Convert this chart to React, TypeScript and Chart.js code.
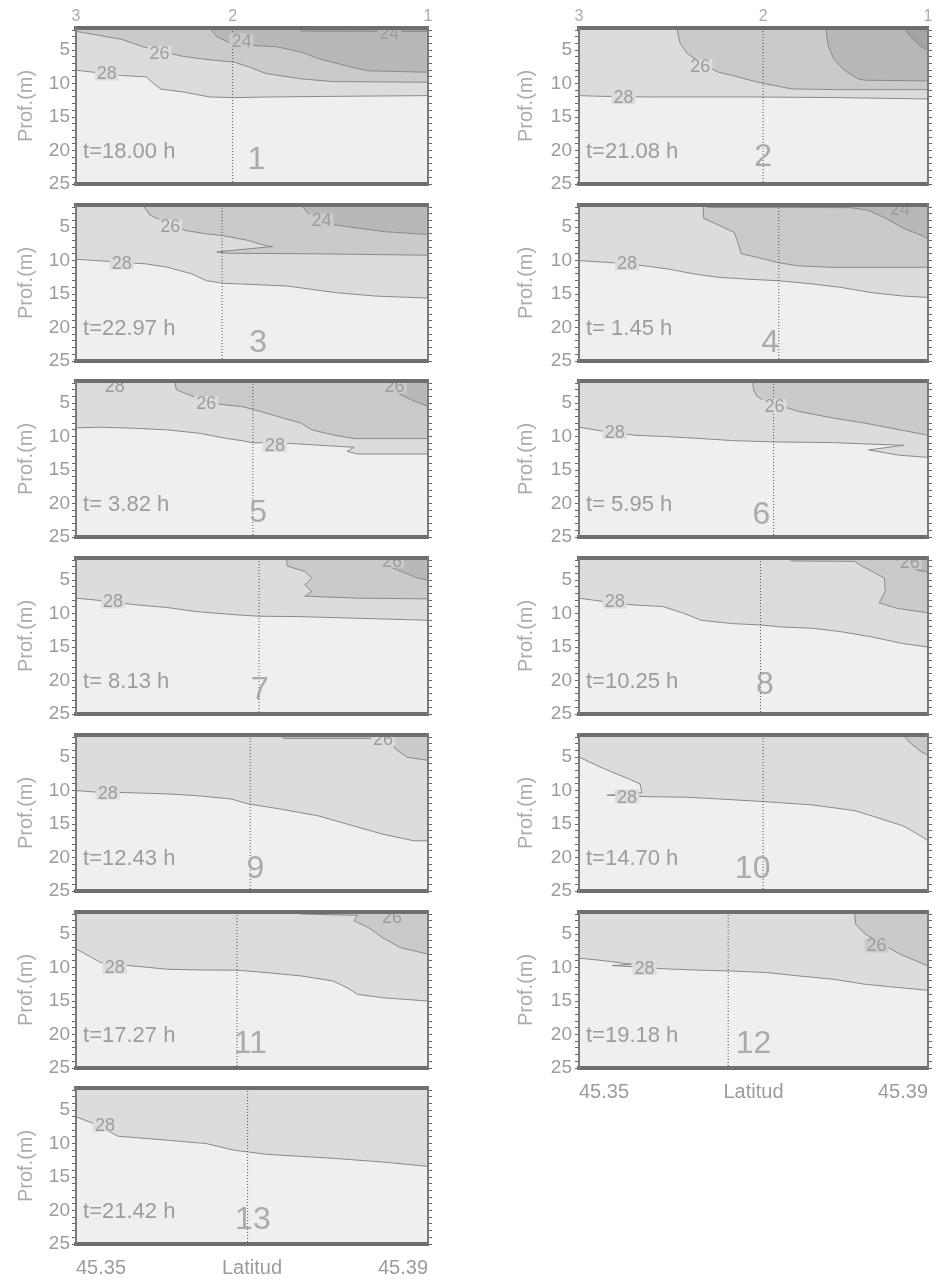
import React, { useEffect, useRef } from "react";
import { Chart, registerables } from "chart.js";

Chart.register(...registerables);

// ---------- axes ----------
const LAT_MIN = 45.35;
const LAT_MAX = 45.39;
const DEPTH_MIN = 1.7;
const DEPTH_MAX = 25;
const DEPTH_TICKS = [2, 3, 4, 5, 6, 7, 8, 9, 10, 11, 12, 13, 14, 15, 16, 17, 18, 19, 20, 21, 22, 23, 24, 25];
const DEPTH_LABELED = [5, 10, 15, 20, 25];
const LAT_TICKS = [45.35, 45.37, 45.39];
const LAT_TICK_LABELS = ["45.35", "Latitud", "45.39"];
const STATION_LABELS = ["3", "2", "1"];
const STATION_LATS_P1 = [45.35, 45.3678, 45.39];
const STATION_LATS_P2 = [45.35, 45.3711, 45.39];

// ---------- per panel annotations ----------
const PANEL_NUMBERS = ["1", "2", "3", "4", "5", "6", "7", "8", "9", "10", "11", "12", "13"];
const TIME_LABELS = ["t=18.00 h", "t=21.08 h", "t=22.97 h", "t= 1.45 h", "t= 3.82 h", "t= 5.95 h", "t= 8.13 h", "t=10.25 h", "t=12.43 h", "t=14.70 h", "t=17.27 h", "t=19.18 h", "t=21.42 h"];
const PROFILE_LAT = [45.3678, 45.3711, 45.3666, 45.3729, 45.3701, 45.3723, 45.3708, 45.3708, 45.3698, 45.3711, 45.3683, 45.3671, 45.3695];
const NUMBER_LAT = [45.3705, 45.3711, 45.3707, 45.3719, 45.3707, 45.3709, 45.3709, 45.3713, 45.3704, 45.3699, 45.3698, 45.37, 45.3701];
const NUMBER_DEPTH = [21.5, 21.0, 22.3, 22.3, 21.5, 21.8, 21.5, 20.7, 21.8, 21.8, 21.5, 21.5, 21.5];
const TIME_LAT = 45.3508;
const TIME_DEPTH = 20.2;

// ---------- isolines [lat, depth] ----------
const P1_C28 = [[45.35, 8.0], [45.3552, 8.8], [45.358, 9.0], [45.3588, 10.0], [45.3596, 10.8], [45.3624, 11.3], [45.3652, 12.0], [45.368, 12.1], [45.372, 12.0], [45.38, 11.9], [45.39, 11.8]];
const P1_C26 = [[45.35, 2.2], [45.3552, 3.4], [45.3576, 4.5], [45.3592, 5.0], [45.362, 5.9], [45.3648, 6.4], [45.368, 6.8], [45.3696, 7.5], [45.3716, 8.5], [45.3756, 9.3], [45.3792, 9.7], [45.39, 9.8]];
const P1_C24 = [[45.3652, 1.7], [45.366, 3.0], [45.3676, 4.0], [45.37, 4.3], [45.3728, 4.5], [45.3756, 5.3], [45.3776, 6.3], [45.3812, 7.5], [45.3832, 8.1], [45.39, 8.3]];
const P1_C22 = [[45.3752, 1.7], [45.3756, 2.15], [45.384, 2.2], [45.39, 2.2]];

const P2_C28 = [[45.35, 11.8], [45.3524, 11.9], [45.358, 12.0], [45.37, 12.0], [45.38, 12.1], [45.39, 12.3]];
const P2_C26 = [[45.3612, 1.7], [45.3616, 4.0], [45.3624, 5.5], [45.3644, 7.3], [45.366, 8.3], [45.3676, 8.8], [45.3696, 9.5], [45.3712, 10.0], [45.3728, 10.4], [45.3744, 10.8], [45.3792, 10.9], [45.39, 10.9]];
const P2_C24 = [[45.3783, 1.7], [45.3784, 3.0], [45.3786, 4.5], [45.3792, 6.3], [45.3804, 8.0], [45.382, 9.3], [45.3828, 9.5], [45.39, 9.6]];
const P2_C22 = [[45.3872, 1.7], [45.388, 3.0], [45.3892, 4.5], [45.39, 5.0]];

const P3_C28 = [[45.35, 9.8], [45.358, 10.5], [45.3604, 11.0], [45.3632, 12.0], [45.3648, 13.0], [45.3668, 13.4], [45.3688, 13.5], [45.374, 13.8], [45.3768, 14.3], [45.3796, 14.8], [45.384, 15.3], [45.388, 15.5], [45.39, 15.6]];
const P3_C26 = [[45.3576, 1.7], [45.3584, 3.2], [45.36, 4.2], [45.3624, 5.5], [45.3648, 6.0], [45.3668, 6.3], [45.3696, 7.0], [45.3716, 7.8], [45.3724, 7.9], [45.366, 8.7], [45.3672, 8.9], [45.378, 9.0], [45.39, 9.2]];
const P3_C24 = [[45.3756, 1.7], [45.3764, 3.0], [45.3776, 4.3], [45.3812, 5.0], [45.3852, 5.7], [45.39, 6.1]];

const P4_C28 = [[45.35, 10.0], [45.3548, 10.4], [45.3576, 10.8], [45.3604, 11.3], [45.3632, 12.0], [45.366, 12.5], [45.3696, 12.8], [45.3728, 13.0], [45.3768, 13.5], [45.38, 14.0], [45.3836, 14.8], [45.3872, 15.3], [45.39, 15.5]];
const P4_C26 = [[45.3642, 1.7], [45.3643, 3.7], [45.366, 4.7], [45.3678, 5.8], [45.3682, 7.3], [45.3686, 9.0], [45.3704, 9.5], [45.3728, 10.3], [45.3752, 10.8], [45.3788, 11.0], [45.39, 11.0]];
const P4_C24 = [[45.3642, 1.7], [45.3648, 2.05], [45.374, 2.05], [45.3812, 2.1], [45.3832, 2.5], [45.3852, 3.7], [45.3872, 5.2], [45.3892, 6.2], [45.39, 6.7]];

const P5_C28 = [[45.35, 8.7], [45.3528, 8.6], [45.3564, 8.75], [45.3604, 9.0], [45.364, 9.5], [45.3672, 10.3], [45.3688, 10.6], [45.37, 10.9], [45.374, 11.0], [45.3816, 11.6], [45.3808, 12.2], [45.382, 12.6], [45.39, 12.6]];
const P5_C26 = [[45.3612, 1.7], [45.3614, 3.0], [45.3628, 3.75], [45.3648, 4.8], [45.3668, 5.25], [45.3688, 5.5], [45.37, 5.9], [45.3716, 6.5], [45.3736, 7.25], [45.3756, 8.0], [45.3768, 9.0], [45.3792, 9.75], [45.3816, 10.3], [45.39, 10.3]];
const P5_C24 = [[45.3852, 1.7], [45.386, 2.3], [45.3868, 3.7], [45.3884, 4.7], [45.39, 5.5]];

const P6_C28 = [[45.35, 8.6], [45.3528, 9.2], [45.3564, 9.8], [45.36, 10.0], [45.364, 10.3], [45.3676, 10.6], [45.3724, 10.8], [45.3792, 10.9], [45.3828, 11.1], [45.3872, 11.3], [45.3832, 12.0], [45.3868, 12.8], [45.39, 13.1]];
const P6_C26 = [[45.3699, 1.7], [45.37, 3.0], [45.3704, 4.0], [45.372, 5.2], [45.374, 5.75], [45.3752, 6.25], [45.3792, 7.25], [45.3828, 8.0], [45.3868, 9.0], [45.39, 9.8]];

const P7_C28 = [[45.35, 7.7], [45.3524, 8.0], [45.3568, 8.7], [45.3604, 9.1], [45.3636, 9.7], [45.3684, 10.2], [45.3708, 10.4], [45.3752, 10.45], [45.382, 10.7], [45.39, 11.0]];
const P7_C26 = [[45.3739, 1.7], [45.374, 2.9], [45.376, 3.7], [45.3768, 4.7], [45.376, 5.7], [45.3768, 6.7], [45.376, 7.4], [45.382, 7.7], [45.39, 7.8]];
const P7_C24 = [[45.3844, 1.7], [45.3848, 2.2], [45.386, 3.2], [45.3888, 4.7], [45.39, 5.0]];

const P8_C28 = [[45.35, 7.7], [45.3528, 8.2], [45.3562, 8.7], [45.3596, 8.95], [45.362, 9.95], [45.364, 11.0], [45.3676, 11.5], [45.3708, 11.7], [45.3732, 12.0], [45.3768, 12.2], [45.38, 12.7], [45.3836, 13.5], [45.3872, 14.5], [45.39, 15.0]];
const P8_C26 = [[45.374, 1.7], [45.3744, 2.15], [45.3816, 2.2], [45.3824, 2.9], [45.3836, 3.7], [45.385, 4.7], [45.3851, 6.7], [45.3844, 8.4], [45.3864, 9.2], [45.39, 9.9]];
const P8_C24 = [[45.386, 1.7], [45.3872, 2.5], [45.3888, 3.5], [45.39, 3.8]];

const P9_C28 = [[45.35, 10.0], [45.352, 10.2], [45.3556, 10.3], [45.3604, 10.5], [45.3636, 10.75], [45.3676, 11.25], [45.3696, 12.0], [45.3732, 12.75], [45.3776, 13.8], [45.3808, 15.0], [45.3848, 16.5], [45.3884, 17.5], [45.39, 17.5]];
const P9_C26 = [[45.3732, 1.7], [45.3736, 2.2], [45.3832, 2.2], [45.386, 2.3], [45.3862, 3.7], [45.3876, 5.0], [45.39, 5.5]];

const P10_C28 = [[45.35, 5.0], [45.3528, 6.7], [45.3556, 8.2], [45.357, 9.0], [45.3572, 10.3], [45.3532, 10.7], [45.3576, 10.9], [45.3624, 11.0], [45.366, 11.25], [45.3712, 11.65], [45.3768, 12.15], [45.3816, 13.0], [45.3836, 13.8], [45.3872, 15.3], [45.3892, 16.8], [45.39, 17.5]];
const P10_C26 = [[45.3872, 1.7], [45.3878, 2.7], [45.3892, 4.2], [45.39, 4.7]];

const P11_C28 = [[45.35, 7.2], [45.3518, 8.5], [45.3528, 9.25], [45.3564, 9.75], [45.3604, 10.25], [45.364, 10.35], [45.3684, 10.4], [45.3716, 10.75], [45.3756, 11.25], [45.3792, 12.0], [45.3808, 13.0], [45.382, 14.0], [45.3848, 14.5], [45.39, 15.0]];
const P11_C26 = [[45.3748, 1.7], [45.3756, 2.0], [45.382, 2.2], [45.3816, 3.0], [45.3832, 4.0], [45.3848, 5.5], [45.3868, 7.0], [45.39, 8.0]];

const P12_C28 = [[45.35, 8.6], [45.3524, 8.9], [45.356, 9.5], [45.3538, 9.7], [45.3564, 9.9], [45.36, 10.2], [45.364, 10.4], [45.3672, 10.5], [45.3716, 10.75], [45.3752, 11.25], [45.3792, 11.75], [45.3828, 12.5], [45.3868, 13.0], [45.39, 13.4]];
const P12_C26 = [[45.3816, 1.7], [45.3817, 3.5], [45.3828, 5.0], [45.3848, 6.5], [45.3868, 8.0], [45.39, 9.75]];

const P13_C28 = [[45.35, 6.0], [45.352, 7.0], [45.3548, 8.9], [45.3604, 9.5], [45.3648, 10.0], [45.368, 11.0], [45.3696, 11.25], [45.3716, 11.6], [45.3792, 12.2], [45.3848, 12.75], [45.39, 13.4]];

// ---------- isoline labels [lat, depth, text, background level] ----------
const P1_LABELS = [[45.3535, 8.5, "28", 1], [45.3595, 5.4, "26", 1], [45.3688, 3.6, "24", 2], [45.3856, 2.4, "24", 3]];
const P2_LABELS = [[45.3551, 12.0, "28", 1], [45.3639, 7.4, "26", 1]];
const P3_LABELS = [[45.3552, 10.3, "28", 1], [45.3607, 4.9, "26", 1], [45.3779, 4.0, "24", 2]];
const P4_LABELS = [[45.3555, 10.4, "28", 1], [45.3868, 2.3, "24", 3]];
const P5_LABELS = [[45.3544, 2.5, "28", 1], [45.3648, 5.0, "26", 1], [45.3726, 11.3, "28", 1], [45.3862, 2.5, "26", 2]];
const P6_LABELS = [[45.3541, 9.3, "28", 1], [45.3724, 5.5, "26", 1]];
const P7_LABELS = [[45.3542, 8.2, "28", 1], [45.3859, 2.1, "26", 2]];
const P8_LABELS = [[45.3541, 8.2, "28", 1], [45.3879, 2.3, "26", 2]];
const P9_LABELS = [[45.3536, 10.3, "28", 1], [45.3849, 2.3, "26", 1]];
const P10_LABELS = [[45.3555, 10.9, "28", 1]];
const P11_LABELS = [[45.3544, 9.9, "28", 1], [45.3859, 2.5, "26", 2]];
const P12_LABELS = [[45.3575, 10.1, "28", 1], [45.3841, 6.7, "26", 2]];
const P13_LABELS = [[45.3533, 7.2, "28", 1]];

const PANELS = [
  { lines: [P1_C28, P1_C26, P1_C24, P1_C22], labels: P1_LABELS },
  { lines: [P2_C28, P2_C26, P2_C24, P2_C22], labels: P2_LABELS },
  { lines: [P3_C28, P3_C26, P3_C24], labels: P3_LABELS },
  { lines: [P4_C28, P4_C26, P4_C24], labels: P4_LABELS },
  { lines: [P5_C28, P5_C26, P5_C24], labels: P5_LABELS },
  { lines: [P6_C28, P6_C26], labels: P6_LABELS },
  { lines: [P7_C28, P7_C26, P7_C24], labels: P7_LABELS },
  { lines: [P8_C28, P8_C26, P8_C24], labels: P8_LABELS },
  { lines: [P9_C28, P9_C26], labels: P9_LABELS },
  { lines: [P10_C28, P10_C26], labels: P10_LABELS },
  { lines: [P11_C28, P11_C26], labels: P11_LABELS },
  { lines: [P12_C28, P12_C26], labels: P12_LABELS },
  { lines: [P13_C28], labels: P13_LABELS },
];

// ---------- style ----------
const FILL = ["#efefef", "#dcdcdc", "#cacaca", "#b8b8b8", "#a4a4a4"];
const LINE = "#8a8a8a";
const FRAME = "#6e6e6e";
const SIDE = "#7a7a7a";
const TEXT = "#9c9c9c";
const TITLE = "#ababab";
const FONT = "Liberation Sans";
const TOP_H = 26;
const PLOT_H = 156;
const BOTTOM_H = 36;
const CANVAS_H = TOP_H + PLOT_H + BOTTOM_H;

function Panel({ index }: { index: number }) {
  const ref = useRef<HTMLCanvasElement | null>(null);
  const col = index % 2;
  const row = Math.floor(index / 2);
  const g = col === 0 ? { left: 0, width: 440, axL: 76, axR: 12, tickPad: 2 } : { left: 500, width: 436, axL: 79, axR: 8, tickPad: 3 };
  const plotTop = Math.round(28 + row * 176.7);
  const top = plotTop - TOP_H;
  const isBottom = index >= 11;
  const isTop = row === 0;

  useEffect(() => {
    const panel = PANELS[index];
    const datasets: any[] = [];
    panel.lines.forEach((pts, k) => {
      if (!pts || !pts.length) return;
      datasets.push({
        data: pts,
        borderColor: LINE,
        borderWidth: 1,
        backgroundColor: FILL[k + 1],
        fill: "end",
        pointRadius: 0,
        tension: 0,
        order: 4 - k,
      });
    });
    datasets.push({
      data: [[PROFILE_LAT[index], DEPTH_MIN], [PROFILE_LAT[index], DEPTH_MAX]],
      borderColor: "#555",
      borderWidth: 1,
      borderDash: [1, 2],
      fill: false,
      pointRadius: 0,
      order: 0,
    });

    const bgPlugin = {
      id: "plotBg",
      beforeDraw(chart: any) {
        const { ctx, chartArea: a } = chart;
        ctx.save();
        ctx.fillStyle = FILL[0];
        ctx.fillRect(a.left, a.top, a.right - a.left, a.bottom - a.top);
        ctx.restore();
      },
    };

    const textPlugin = {
      id: "panelText",
      afterDatasetsDraw(chart: any) {
        const { ctx, chartArea: a, scales } = chart;
        const xs = scales.x;
        const ys = scales.y;
        ctx.save();
        ctx.beginPath();
        ctx.rect(a.left, a.top, a.right - a.left, a.bottom - a.top);
        ctx.clip();
        ctx.font = `18px "${FONT}"`;
        ctx.textAlign = "center";
        ctx.textBaseline = "middle";
        for (const [lat, dep, txt, lvl] of panel.labels as any[]) {
          const x = xs.getPixelForValue(lat);
          const y = ys.getPixelForValue(dep);
          const w = ctx.measureText(txt).width;
          ctx.fillStyle = FILL[lvl];
          ctx.fillRect(x - w / 2 - 2, y - 7, w + 4, 14);
          ctx.fillStyle = TEXT;
          ctx.fillText(txt, x, y + 1);
        }
        ctx.fillStyle = TEXT;
        ctx.font = `22px "${FONT}"`;
        ctx.textAlign = "left";
        ctx.fillText(TIME_LABELS[index], xs.getPixelForValue(TIME_LAT), ys.getPixelForValue(TIME_DEPTH));
        ctx.fillStyle = "#aaaaaa";
        ctx.font = `32px "${FONT}"`;
        ctx.textAlign = "center";
        ctx.fillText(PANEL_NUMBERS[index], xs.getPixelForValue(NUMBER_LAT[index]), ys.getPixelForValue(NUMBER_DEPTH[index]));
        ctx.restore();
      },
    };

    const stationLats = index === 0 ? STATION_LATS_P1 : STATION_LATS_P2;
    const depthAxis = (pos: string, width: number, showLabels: boolean) => ({
      type: "linear",
      position: pos,
      reverse: true,
      min: DEPTH_MIN,
      max: DEPTH_MAX,
      afterBuildTicks: (s: any) => {
        s.ticks = DEPTH_TICKS.map((v) => ({ value: v }));
      },
      afterFit: (s: any) => {
        s.width = width;
        s.paddingTop = 0;
        s.paddingBottom = 0;
      },
      grid: { display: true, drawOnChartArea: false, drawTicks: true, tickLength: 4, color: "#666", lineWidth: 1 },
      border: { display: true, color: SIDE, width: 2, z: 1 },
      ticks: {
        display: showLabels,
        autoSkip: false,
        padding: g.tickPad,
        color: TEXT,
        font: { family: FONT, size: 19 },
        callback: (v: number) => (DEPTH_LABELED.includes(v) ? String(v) : ""),
      },
      title: showLabels
        ? { display: true, text: "Prof.(m)", color: TITLE, font: { family: FONT, size: 20 }, padding: { top: 14, bottom: 0 } }
        : { display: false },
    });

    const chart = new Chart(ref.current as HTMLCanvasElement, {
      type: "line",
      data: { datasets },
      plugins: [bgPlugin, textPlugin],
      options: {
        animation: false,
        responsive: false,
        devicePixelRatio: 1,
        events: [],
        layout: { padding: 0 },
        plugins: {
          legend: { display: false },
          tooltip: { enabled: false },
          filler: { drawTime: "beforeDatasetsDraw" },
        },
        scales: {
          x: {
            type: "linear",
            position: "bottom",
            min: LAT_MIN,
            max: LAT_MAX,
            afterBuildTicks: (s: any) => {
              s.ticks = LAT_TICKS.map((v) => ({ value: v }));
            },
            afterFit: (s: any) => {
              s.height = BOTTOM_H;
              s.paddingLeft = 0;
              s.paddingRight = 0;
            },
            grid: { display: false, drawTicks: false },
            border: { display: true, color: FRAME, width: 4, z: 1 },
            ticks: {
              display: isBottom,
              autoSkip: false,
              maxRotation: 0,
              align: "inner",
              padding: 12,
              color: TEXT,
              font: { family: FONT, size: 20 },
              callback: (_v: number, i: number) => LAT_TICK_LABELS[i],
            },
          },
          xTop: {
            type: "linear",
            position: "top",
            min: LAT_MIN,
            max: LAT_MAX,
            afterBuildTicks: (s: any) => {
              s.ticks = stationLats.map((v) => ({ value: v }));
            },
            afterFit: (s: any) => {
              s.height = TOP_H;
              s.paddingLeft = 0;
              s.paddingRight = 0;
            },
            grid: { display: false, drawTicks: false },
            border: { display: true, color: FRAME, width: 4, z: 1 },
            ticks: {
              display: isTop,
              autoSkip: false,
              maxRotation: 0,
              padding: 2,
              color: TITLE,
              font: { family: FONT, size: 16 },
              callback: (_v: number, i: number) => STATION_LABELS[i],
            },
          },
          y: depthAxis("left", g.axL, true),
          yR: depthAxis("right", g.axR, false),
        },
      } as any,
    } as any);
    return () => chart.destroy();
  }, [index]);

  return (
    <canvas
      ref={ref}
      width={g.width}
      height={CANVAS_H}
      style={{ position: "absolute", left: g.left, top, width: g.width, height: CANVAS_H }}
    />
  );
}

export default function App() {
  return (
    <div style={{ position: "absolute", left: 0, top: 0, width: 936, height: 1281, background: "#fff" }}>
      {PANELS.map((_, i) => (
        <Panel key={i} index={i} />
      ))}
    </div>
  );
}
